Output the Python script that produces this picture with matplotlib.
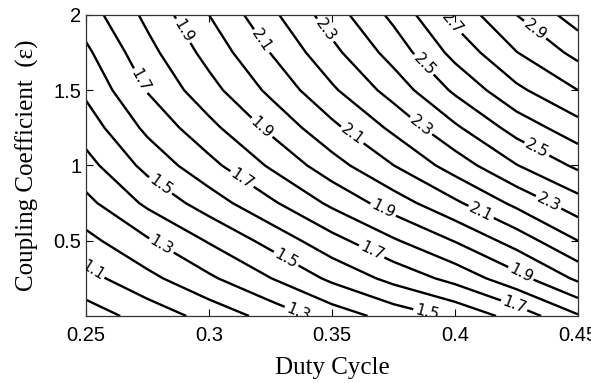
import numpy as np
import matplotlib
matplotlib.use("Agg")
import matplotlib.pyplot as plt

# grid (duty cycle across, coupling coefficient down the rows)
duty = [0.25, 0.275, 0.30, 0.325, 0.35, 0.375, 0.40, 0.425, 0.45]
coupling = [0.0, 0.25, 0.5, 0.75, 1.0, 1.25, 1.5, 1.75, 2.0]
values = [
    [0.95, 1.04, 1.135, 1.235, 1.345, 1.44, 1.52, 1.64, 1.79],
    [1.066, 1.172, 1.283, 1.398, 1.521, 1.631, 1.733, 1.865, 2.02],
    [1.17, 1.288, 1.409, 1.533, 1.666, 1.788, 1.905, 2.043, 2.20],
    [1.273, 1.42, 1.549, 1.682, 1.821, 1.95, 2.082, 2.225, 2.36],
    [1.364, 1.531, 1.67, 1.813, 1.959, 2.099, 2.246, 2.396, 2.52],
    [1.447, 1.623, 1.771, 1.921, 2.075, 2.222, 2.383, 2.54, 2.66],
    [1.52, 1.706, 1.864, 2.022, 2.184, 2.341, 2.518, 2.678, 2.80],
    [1.58, 1.767, 1.935, 2.102, 2.272, 2.44, 2.632, 2.797, 2.93],
    [1.65, 1.825, 2.0, 2.175, 2.35, 2.525, 2.73, 2.90, 3.05],
]
plain_levels = [1.0, 1.2, 1.4, 1.6, 1.8, 2.0, 2.2, 2.4, 2.6, 2.8, 3.0]
label_levels = [1.1, 1.3, 1.5, 1.7, 1.9, 2.1, 2.3, 2.5, 2.7, 2.9]
x_ticks = [0.25, 0.3, 0.35, 0.4, 0.45]
x_ticklabels = ["0.25", "0.3", "0.35", "0.4", "0.45"]
y_ticks = [0.5, 1, 1.5, 2]
y_ticklabels = ["0.5", "1", "1.5", "2"]

# where the labels sit in the original
label_spots = [
    (0.2525, 0.30),
    (0.280, 0.45), (0.337, 0.06),
    (0.280, 0.86), (0.331, 0.37), (0.389, 0.05),
    (0.273, 1.57), (0.313, 0.90), (0.365, 0.39), (0.424, 0.07),
    (0.286, 1.86), (0.322, 1.26), (0.370, 0.68), (0.427, 0.29),
    (0.319, 1.80), (0.359, 1.22), (0.410, 0.67),
    (0.344, 1.86), (0.386, 1.26), (0.437, 0.72),
    (0.386, 1.65), (0.433, 1.10),
    (0.397, 1.92),
    (0.431, 1.87),
]

X, Y = np.meshgrid(duty, coupling)
Z = np.array(values)

fig = plt.figure(figsize=(5.91, 3.83), dpi=100)
ax = fig.add_axes([0.1455, 0.175, 0.8325, 0.786])

ax.contour(X, Y, Z, levels=plain_levels, colors="black", linewidths=1.7)
cs = ax.contour(X, Y, Z, levels=label_levels, colors="black", linewidths=1.7)
ax.clabel(cs, manual=label_spots, inline=True, fmt="%.1f",
          fontsize=11, inline_spacing=2)

ax.set_xlim(0.25, 0.45)
ax.set_ylim(0, 2)
ax.set_xticks(x_ticks)
ax.set_xticklabels(x_ticklabels, family="Liberation Sans", fontsize=14.5)
ax.set_yticks(y_ticks)
ax.set_yticklabels(y_ticklabels, family="Liberation Sans", fontsize=14.5)
ax.tick_params(direction="in", length=5, top=True, right=True, width=0.8)
ax.tick_params(axis="x", pad=7)
for sp in ax.spines.values():
    sp.set_linewidth(0.9)
    sp.set_color("#333333")

ax.set_xlabel("Duty Cycle", family="Liberation Serif", fontsize=18, labelpad=9)
ax.set_ylabel("Coupling Coefficient  (\u03b5)", family="Liberation Serif",
              fontsize=18, labelpad=10)

fig.savefig("out.png", dpi=100)
